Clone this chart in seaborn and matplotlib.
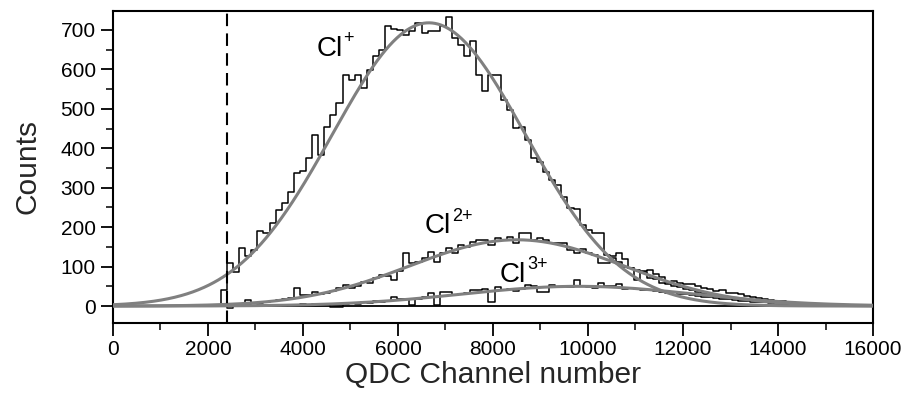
import numpy as np
import pandas as pd
import matplotlib
matplotlib.use('Agg')
import matplotlib.pyplot as plt
import seaborn as sns
from matplotlib.ticker import MultipleLocator

# histogram binning of the QDC spectrum
bin_start = 2272
bin_width = 128
threshold = 2400

cl1_counts = [41, 109, 87, 147, 127, 142, 190, 185, 211, 244,
              261, 290, 337, 342, 375, 434, 383, 455, 485, 515,
              586, 574, 586, 552, 599, 633, 650, 709, 703, 700,
              688, 696, 717, 693, 698, 697, 709, 734, 679, 662,
              633, 671, 586, 544, 586, 586, 523, 497, 451, 455,
              421, 375, 366, 340, 320, 307, 277, 249, 245, 206,
              193, 185, 185, 129, 127, 134, 118, 96, 66, 87,
              72, 68, 58, 55, 50, 48, 44, 40, 36, 34,
              30, 28, 26, 22, 20, 18, 17, 15, 13, 12,
              10, 9, 7, 5, 3]

cl2_counts = [0, 3, 5, 4, 15, 8, 7, 11, 13, 16,
              18, 20, 45, 28, 27, 36, 30, 34, 38, 45,
              53, 45, 50, 62, 58, 70, 78, 75, 66, 90,
              134, 109, 112, 122, 138, 112, 134, 147, 134, 155,
              150, 163, 168, 168, 155, 172, 168, 176, 160, 185,
              185, 168, 172, 168, 159, 159, 160, 142, 134, 145,
              134, 130, 109, 109, 122, 112, 100, 96, 92, 88,
              91, 80, 74, 62, 64, 58, 55, 56, 50, 46,
              44, 39, 40, 34, 34, 30, 26, 24, 20, 18,
              16, 14, 12, 10, 8]

cl3_counts = [0, -5, 2, 0, 3, 1, 2, 0, 3, 2,
              1, 3, 2, 4, 3, 5, 4, 6, -3, -3,
              5, 7, 6, 9, 8, 12, 10, 14, 24, 18,
              19, 3, 18, 22, 33, 3, 35, 35, 28, 30,
              33, 40, 40, 44, 11, 49, 41, 44, 38, 44,
              53, 50, 36, 35, 53, 48, 49, 48, 66, 50,
              48, 45, 58, 52, 50, 56, 42, 45, 44, 40,
              41, 38, 36, 34, 35, 31, 30, 28, 26, 24,
              22, 21, 19, 17, 16, 14, 13, 11, 10, 9,
              8, 6, 5, 4, 3]

# gaussian fits: amplitude, centre, sigma
fit_params = {
    'Cl+': (718, 6650, 2030),
    'Cl2+': (168, 8500, 2250),
    'Cl3+': (50, 9800, 2450),
}

ion_sup = {'Cl+': '+', 'Cl2+': '2+', 'Cl3+': '3+'}
label_pos = {'Cl+': (4280, 634), 'Cl2+': (6560, 185), 'Cl3+': (8150, 61)}


def step_frame(counts):
    edges = bin_start + bin_width * np.arange(len(counts) + 1)
    x = np.concatenate([[edges[0]], edges, [edges[-1]]])
    y = np.concatenate([[0], counts, [counts[-1]], [0]])
    return pd.DataFrame({'channel': x, 'counts': y[:len(x)]})


sns.set_style('ticks')
plt.rcParams['font.family'] = ['Liberation Sans', 'DejaVu Sans']

fig = plt.figure(figsize=(9.09, 4.01), dpi=100)
ax = fig.add_axes([0.1243, 0.1945, 0.8361, 0.7781])

for counts in [cl1_counts, cl2_counts, cl3_counts]:
    df = step_frame(counts)
    sns.lineplot(data=df, x='channel', y='counts', estimator=None, sort=False,
                 drawstyle='steps-post', color='black', lw=1.1, ax=ax, zorder=2)

xfit = np.linspace(0, 16000, 801)
for key, (amp, mu, sig) in fit_params.items():
    yfit = amp * np.exp(-(xfit - mu) ** 2 / (2 * sig ** 2))
    sns.lineplot(x=xfit, y=yfit, color='#808080', lw=2.2, ax=ax, zorder=3)
    ax.text(*label_pos[key], 'Cl', fontsize=20, color='black')
    ax.annotate(ion_sup[key], xy=label_pos[key], xytext=(19.5, 9),
                textcoords='offset points', fontsize=13, color='black')

ax.plot([bin_start, 16000], [0, 0], color='black', lw=1.3, zorder=1)
ax.axvline(threshold, color='black', lw=1.5, ls=(0, (6, 3.5)), zorder=4)

ax.set_xlim(0, 16000)
ax.set_ylim(-43, 748)
ax.xaxis.set_major_locator(MultipleLocator(2000))
ax.xaxis.set_minor_locator(MultipleLocator(1000))
ax.yaxis.set_major_locator(MultipleLocator(100))
ax.yaxis.set_minor_locator(MultipleLocator(50))
ax.tick_params(which='major', direction='out', length=9, width=1.3, labelsize=15, colors='black')
ax.tick_params(which='minor', direction='out', length=5, width=1.3)
for s in ax.spines.values():
    s.set_linewidth(1.5)
    s.set_color('black')
ax.set_xlabel('QDC Channel number', fontsize=21.5, labelpad=1)
ax.set_ylabel('Counts', fontsize=21.5, labelpad=14)

fig.savefig('out.png', dpi=100)
